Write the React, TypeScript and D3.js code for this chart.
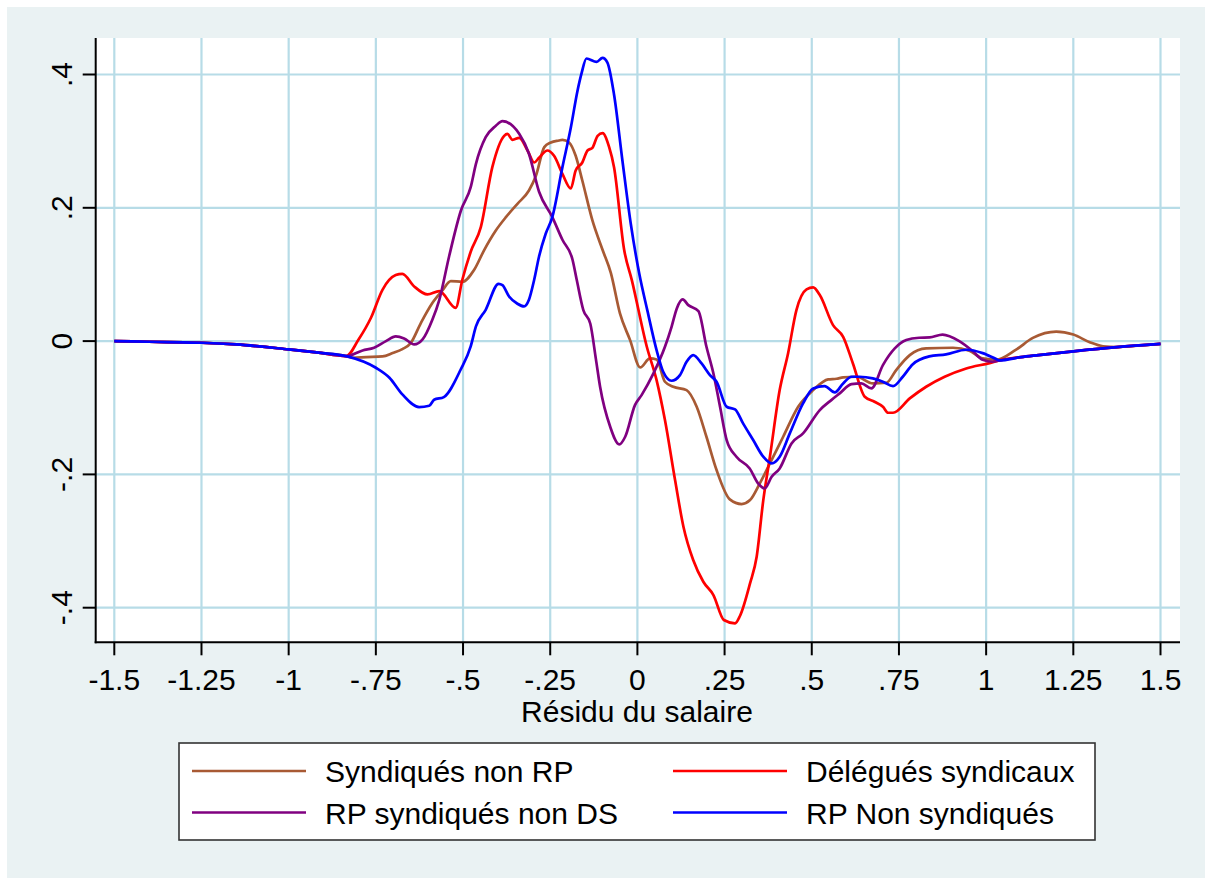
import React from "react";
import * as d3 from "d3";

// ---- data ----
const xTicks = [-1.5, -1.25, -1, -0.75, -0.5, -0.25, 0, 0.25, 0.5, 0.75, 1, 1.25, 1.5];
const xTickLabels = ["-1.5", "-1.25", "-1", "-.75", "-.5", "-.25", "0", ".25", ".5", ".75", "1", "1.25", "1.5"];
const yTicks = [-0.4, -0.2, 0, 0.2, 0.4];
const yTickLabels = ["-.4", "-.2", "0", ".2", ".4"];

const seriesNames = ["Syndiqués non RP", "Délégués syndicaux", "RP syndiqués non DS", "RP Non syndiqués"];
const seriesColors = ["#a85a34", "#ff0000", "#800080", "#0000ff"];

const leftX = [-1.5, -1.4, -1.3, -1.25, -1.15, -1.0, -0.92, -0.835];
const leftY = [0, -0.001, -0.002, -0.0025, -0.005, -0.0125, -0.017, -0.0225];
const tailX = [1.038, 1.1, 1.15, 1.25, 1.375, 1.5];
const tailY = [-0.029, -0.024, -0.021, -0.0153, -0.009, -0.0043];

const brownX = [-0.816, -0.778, -0.731, -0.702, -0.674, -0.65, -0.621, -0.588, -0.559, -0.535, -0.502, -0.468, -0.439, -0.406, -0.377, -0.344, -0.311, -0.291, -0.267, -0.248, -0.225, -0.215, -0.196, -0.177, -0.158, -0.129, -0.1, -0.076, -0.05, -0.021, 0.008, 0.036, 0.055, 0.079, 0.103, 0.141, 0.17, 0.198, 0.227, 0.265, 0.299, 0.323, 0.351, 0.38, 0.418, 0.461, 0.504, 0.547, 0.571, 0.59, 0.628, 0.675, 0.714, 0.742, 0.781, 0.828, 0.905, 0.952, 0.99, 1.029, 1.086, 1.134, 1.201, 1.25, 1.297, 1.335, 1.373, 1.45, 1.5];
const brownY = [-0.025, -0.024, -0.023, -0.018, -0.012, -0.003, 0.027, 0.057, 0.076, 0.09, 0.089, 0.107, 0.137, 0.166, 0.186, 0.206, 0.226, 0.248, 0.291, 0.298, 0.301, 0.302, 0.298, 0.278, 0.241, 0.181, 0.137, 0.102, 0.0415, 0.0015, -0.0395, -0.026, -0.0275, -0.061, -0.0685, -0.0735, -0.0985, -0.1435, -0.1935, -0.2375, -0.2445, -0.2385, -0.2135, -0.1835, -0.1435, -0.0985, -0.0735, -0.0575, -0.0565, -0.0545, -0.0535, -0.0635, -0.0625, -0.0435, -0.021, -0.011, -0.01, -0.0145, -0.026, -0.028, -0.0128, 0.0048, 0.0143, 0.0098, -0.0017, -0.0078, -0.009, -0.0062, -0.0043];

const redX = [-0.8, -0.764, -0.731, -0.693, -0.674, -0.64, -0.602, -0.568, -0.521, -0.502, -0.478, -0.449, -0.416, -0.382, -0.373, -0.358, -0.339, -0.315, -0.296, -0.282, -0.258, -0.239, -0.215, -0.191, -0.177, -0.158, -0.143, -0.129, -0.114, -0.1, -0.081, -0.067, -0.038, -0.016, 0.027, 0.055, 0.079, 0.108, 0.132, 0.16, 0.189, 0.218, 0.248, 0.28, 0.294, 0.323, 0.342, 0.361, 0.38, 0.408, 0.432, 0.456, 0.485, 0.504, 0.523, 0.561, 0.59, 0.618, 0.652, 0.68, 0.704, 0.719, 0.733, 0.781, 0.828, 0.881, 0.943, 1.01];
const redY = [0.002, 0.035, 0.077, 0.099, 0.101, 0.082, 0.07, 0.075, 0.05, 0.092, 0.134, 0.171, 0.261, 0.308, 0.311, 0.302, 0.305, 0.286, 0.268, 0.275, 0.286, 0.278, 0.251, 0.229, 0.256, 0.268, 0.286, 0.29, 0.308, 0.312, 0.291, 0.261, 0.137, 0.0915, -0.0085, -0.0585, -0.1185, -0.2085, -0.2785, -0.3285, -0.361, -0.381, -0.4185, -0.4235, -0.4125, -0.3635, -0.3235, -0.2385, -0.1735, -0.0735, -0.0185, 0.0465, 0.0775, 0.0805, 0.069, 0.024, 0.0065, -0.0335, -0.0835, -0.091, -0.0985, -0.1075, -0.1075, -0.086, -0.0685, -0.0535, -0.041, -0.033];

const purpleX = [-0.788, -0.755, -0.721, -0.693, -0.669, -0.64, -0.616, -0.588, -0.568, -0.54, -0.506, -0.478, -0.463, -0.435, -0.406, -0.387, -0.339, -0.311, -0.282, -0.244, -0.215, -0.186, -0.174, -0.155, -0.135, -0.119, -0.107, -0.078, -0.052, -0.035, -0.007, 0.012, 0.046, 0.079, 0.098, 0.113, 0.13, 0.146, 0.175, 0.198, 0.218, 0.237, 0.256, 0.284, 0.322, 0.346, 0.365, 0.385, 0.408, 0.442, 0.475, 0.523, 0.556, 0.58, 0.614, 0.642, 0.671, 0.704, 0.738, 0.771, 0.808, 0.838, 0.875, 0.923, 0.962, 0.99, 1.019];
const purpleY = [-0.014, -0.01, 0.0, 0.007, 0.004, -0.005, 0.0025, 0.032, 0.062, 0.127, 0.196, 0.231, 0.266, 0.306, 0.323, 0.33, 0.311, 0.281, 0.224, 0.186, 0.152, 0.122, 0.092, 0.0465, 0.026, -0.027, -0.0685, -0.1285, -0.155, -0.1435, -0.096, -0.081, -0.0485, -0.0085, 0.0215, 0.049, 0.0625, 0.054, 0.045, -0.0085, -0.0485, -0.0985, -0.1485, -0.1735, -0.191, -0.2135, -0.221, -0.2035, -0.191, -0.1535, -0.1385, -0.1035, -0.0885, -0.0785, -0.0645, -0.0635, -0.071, -0.036, -0.011, 0.0015, 0.005, 0.0055, 0.0098, 0.0, -0.0153, -0.028, -0.031];

const blueX = [-0.75, -0.711, -0.674, -0.626, -0.597, -0.583, -0.555, -0.507, -0.478, -0.463, -0.435, -0.398, -0.387, -0.368, -0.344, -0.325, -0.311, -0.296, -0.282, -0.263, -0.244, -0.215, -0.191, -0.172, -0.16, -0.146, -0.117, -0.1, -0.086, -0.067, -0.043, -0.019, 0.005, 0.029, 0.055, 0.074, 0.098, 0.122, 0.141, 0.16, 0.184, 0.208, 0.227, 0.256, 0.28, 0.303, 0.332, 0.361, 0.385, 0.408, 0.437, 0.475, 0.504, 0.537, 0.566, 0.59, 0.614, 0.637, 0.675, 0.704, 0.733, 0.761, 0.789, 0.837, 0.885, 0.943, 0.99, 1.029];
const blueY = [-0.04, -0.055, -0.08, -0.099, -0.097, -0.088, -0.084, -0.043, -0.008, 0.022, 0.047, 0.086, 0.084, 0.067, 0.056, 0.052, 0.062, 0.092, 0.127, 0.161, 0.186, 0.261, 0.32, 0.375, 0.402, 0.424, 0.419, 0.425, 0.418, 0.37, 0.271, 0.176, 0.102, 0.045, -0.0135, -0.046, -0.0595, -0.051, -0.031, -0.021, -0.0335, -0.051, -0.061, -0.0985, -0.1025, -0.1235, -0.1485, -0.1735, -0.1835, -0.1735, -0.1385, -0.0935, -0.071, -0.0675, -0.077, -0.0635, -0.0535, -0.0535, -0.056, -0.061, -0.0675, -0.0535, -0.035, -0.023, -0.02, -0.013, -0.018, -0.027];

type Pt = [number, number];
const zip = (xs: number[], ys: number[]): Pt[] => xs.map((x, i) => [x, ys[i]] as Pt);
const brownPts = [...zip(leftX, leftY), ...zip(brownX, brownY)];
const redPts = [...zip(leftX, leftY), ...zip(redX, redY), ...zip(tailX, tailY)];
const purplePts = [...zip(leftX, leftY), ...zip(purpleX, purpleY), ...zip(tailX, tailY)];
const bluePts = [...zip(leftX, leftY), ...zip(blueX, blueY), ...zip(tailX, tailY)];
const allSeries = [brownPts, redPts, purplePts, bluePts];

export default function App() {
  const W = 1205, H = 878;
  const plotL = 95.7, plotR = 1180, plotT = 38, plotB = 642.3;
  const x = d3.scaleLinear().domain([-1.5, 1.5]).range([114.3, 1160.5]);
  const y = d3.scaleLinear().domain([-0.4, 0.4]).range([607.7, 74.5]);
  const line = d3.line<Pt>().x(d => x(d[0])).y(d => y(d[1])).curve(d3.curveMonotoneX);
  const font = "'Liberation Sans', Arial, sans-serif";
  const fs = 30;
  const grid = "#b7dce7";

  const legendItems = [
    { i: 0, lx: 192, tx: 325, ry: 771 },
    { i: 1, lx: 673, tx: 806, ry: 771 },
    { i: 2, lx: 192, tx: 325, ry: 812.5 },
    { i: 3, lx: 673, tx: 806, ry: 812.5 },
  ];

  return (
    <div style={{ position: "absolute", left: 0, top: 0 }}>
      <svg width={W} height={H} style={{ display: "block" }} fontFamily={font}>
        <rect x={0} y={0} width={W} height={H} fill="#ffffff" />
        <rect x={7} y={7} width={W - 7} height={H - 7} fill="#eaf2f3" />
        <rect x={plotL} y={plotT} width={plotR - plotL} height={plotB - plotT} fill="#ffffff" />
        {xTicks.map(v => (
          <line key={"gx" + v} x1={x(v)} x2={x(v)} y1={plotT} y2={plotB} stroke={grid} strokeWidth={2.2} />
        ))}
        {yTicks.map(v => (
          <line key={"gy" + v} x1={plotL} x2={plotR} y1={y(v)} y2={y(v)} stroke={grid} strokeWidth={2.2} />
        ))}
        {allSeries.map((pts, i) => (
          <path key={"s" + i} d={line(pts) || ""} fill="none" stroke={seriesColors[i]} strokeWidth={2.7} strokeLinejoin="round" />
        ))}
        <line x1={plotL} x2={plotL} y1={plotT} y2={plotB + 1} stroke="#000" strokeWidth={2} />
        <line x1={plotL - 1} x2={plotR} y1={plotB} y2={plotB} stroke="#000" strokeWidth={2} />
        {xTicks.map((v, i) => (
          <g key={"tx" + v}>
            <line x1={x(v)} x2={x(v)} y1={plotB} y2={plotB + 13} stroke="#000" strokeWidth={2} />
            <text x={x(v)} y={690} fontSize={fs} textAnchor="middle" fill="#000">{xTickLabels[i]}</text>
          </g>
        ))}
        {yTicks.map((v, i) => (
          <g key={"ty" + v}>
            <line x1={plotL - 13} x2={plotL} y1={y(v)} y2={y(v)} stroke="#000" strokeWidth={2} />
            <text transform={`translate(72,${y(v)}) rotate(-90)`} fontSize={fs} textAnchor="middle" fill="#000">{yTickLabels[i]}</text>
          </g>
        ))}
        <text x={637} y={722} fontSize={fs} textAnchor="middle" fill="#000">Résidu du salaire</text>
        <rect x={179} y={743} width={916} height={97} fill="#ffffff" stroke="#333" strokeWidth={1.6} />
        {legendItems.map(it => (
          <g key={"lg" + it.i}>
            <line x1={it.lx} x2={it.lx + 114} y1={it.ry} y2={it.ry} stroke={seriesColors[it.i]} strokeWidth={2.7} />
            <text x={it.tx} y={it.ry + 11} fontSize={fs} fill="#000">{seriesNames[it.i]}</text>
          </g>
        ))}
      </svg>
    </div>
  );
}
